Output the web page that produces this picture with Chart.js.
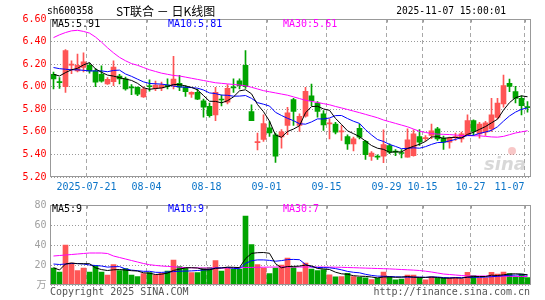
<!DOCTYPE html>
<html><head><meta charset="utf-8">
<script src="https://cdn.jsdelivr.net/npm/chart.js@4/dist/chart.umd.min.js"></script>
<style>
html,body{margin:0;padding:0;background:#fff;}
#wrap{position:relative;width:545px;height:300px;overflow:hidden;background:#fff;}
#c1{position:absolute;left:0;top:0;}
#c2{position:absolute;left:0;top:195px;}
</style></head><body>
<div id="wrap"><canvas id="c1" width="545" height="197"></canvas><canvas id="c2" width="545" height="105"></canvas></div>
<script>
const dates = [
'2025-07-11','2025-07-14','2025-07-15','2025-07-16','2025-07-17','2025-07-18','2025-07-21','2025-07-22','2025-07-23','2025-07-24',
'2025-07-25','2025-07-28','2025-07-29','2025-07-30','2025-07-31','2025-08-01','2025-08-04','2025-08-05','2025-08-06','2025-08-07',
'2025-08-08','2025-08-11','2025-08-12','2025-08-13','2025-08-14','2025-08-15','2025-08-18','2025-08-19','2025-08-20','2025-08-21',
'2025-08-22','2025-08-25','2025-08-26','2025-08-27','2025-08-28','2025-08-29','2025-09-01','2025-09-02','2025-09-03','2025-09-04',
'2025-09-05','2025-09-08','2025-09-09','2025-09-10','2025-09-11','2025-09-12','2025-09-15','2025-09-16','2025-09-17','2025-09-18',
'2025-09-19','2025-09-22','2025-09-23','2025-09-24','2025-09-25','2025-09-26','2025-09-29','2025-09-30','2025-10-09','2025-10-10',
'2025-10-13','2025-10-14','2025-10-15','2025-10-16','2025-10-17','2025-10-20','2025-10-21','2025-10-22','2025-10-23','2025-10-24',
'2025-10-27','2025-10-28','2025-10-29','2025-10-30','2025-10-31','2025-11-03','2025-11-04','2025-11-05','2025-11-06','2025-11-07'];

const open = [
6.11,6.045,6.00,6.19,6.14,6.17,6.19,6.14,6.11,6.025,
6.045,6.095,6.07,6.00,5.995,5.91,6.005,5.985,5.99,6.015,
6.01,6.03,5.995,5.935,5.95,5.876,5.826,5.75,5.888,5.862,
5.995,6.053,6.19,5.78,5.505,5.532,5.635,5.574,5.555,5.656,
5.885,5.656,5.738,5.92,5.856,5.759,5.67,5.67,5.60,5.559,
5.494,5.632,5.515,5.382,5.38,5.385,5.479,5.423,5.412,5.376,
5.39,5.559,5.54,5.568,5.626,5.544,5.509,5.55,5.538,5.574,
5.70,5.582,5.597,5.626,5.729,5.847,6.03,5.956,5.897,5.82];
const high = [
6.13,6.08,6.33,6.23,6.29,6.30,6.21,6.16,6.185,6.08,
6.23,6.11,6.085,6.02,6.00,6.00,6.06,6.05,6.04,6.07,
6.27,6.10,6.01,5.955,5.98,5.89,5.856,5.994,5.926,6.02,
6.07,6.07,6.32,5.84,5.59,5.75,5.69,5.59,5.62,5.818,
5.897,5.759,5.994,6.024,5.868,5.788,5.715,5.685,5.656,5.574,
5.553,5.67,5.524,5.426,5.397,5.618,5.494,5.444,5.444,5.626,
5.618,5.62,5.567,5.67,5.641,5.562,5.553,5.59,5.597,5.75,
5.706,5.685,5.694,5.897,5.897,6.103,6.068,6.003,5.92,5.868];
const low = [
5.98,5.985,5.95,6.115,6.13,6.13,6.12,6.00,6.04,6.02,
6.01,6.025,5.97,5.93,5.92,5.905,5.96,5.965,5.965,5.98,
5.98,5.965,5.915,5.905,5.885,5.73,5.73,5.70,5.83,5.847,
5.95,5.98,5.985,5.70,5.44,5.515,5.56,5.33,5.455,5.574,
5.656,5.603,5.73,5.832,5.73,5.612,5.538,5.582,5.524,5.444,
5.43,5.538,5.356,5.347,5.356,5.326,5.406,5.39,5.368,5.376,
5.385,5.48,5.52,5.54,5.524,5.444,5.456,5.524,5.509,5.568,
5.568,5.544,5.568,5.603,5.715,5.818,5.956,5.856,5.75,5.774];
const close = [
6.07,6.035,6.32,6.20,6.19,6.22,6.14,6.04,6.05,6.065,
6.175,6.07,5.98,5.99,5.935,5.98,6.00,6.015,6.015,6.00,
6.068,5.995,5.955,5.95,5.89,5.818,5.744,5.95,5.882,5.985,
5.99,6.01,6.00,5.70,5.51,5.673,5.59,5.385,5.60,5.768,
5.78,5.738,5.959,5.876,5.78,5.662,5.68,5.597,5.61,5.494,
5.538,5.553,5.397,5.412,5.376,5.488,5.42,5.42,5.408,5.53,
5.582,5.509,5.545,5.61,5.538,5.509,5.544,5.553,5.582,5.70,
5.603,5.67,5.679,5.75,5.856,6.009,6.003,5.897,5.832,5.815];

const ma5 = [
6.11,6.095,6.125,6.15,6.163,6.193,6.214,6.158,6.128,6.103,
6.094,6.08,6.068,6.056,6.03,5.991,5.977,5.984,5.989,6.002,
6.02,6.019,6.007,5.994,5.972,5.922,5.871,5.87,5.857,5.876,
5.91,5.963,5.973,5.937,5.842,5.779,5.695,5.572,5.552,5.603,
5.625,5.654,5.769,5.824,5.827,5.803,5.791,5.719,5.666,5.609,
5.584,5.558,5.518,5.479,5.455,5.445,5.419,5.423,5.422,5.453,
5.472,5.49,5.515,5.555,5.557,5.542,5.549,5.551,5.545,5.578,
5.596,5.622,5.647,5.68,5.712,5.793,5.859,5.903,5.919,5.911];
const ma10 = [
6.17,6.16,6.155,6.15,6.15,6.145,6.14,6.14,6.14,6.133,
6.144,6.147,6.113,6.092,6.067,6.043,6.029,6.026,6.023,6.016,
6.006,5.998,5.996,5.992,5.987,5.971,5.945,5.939,5.926,5.924,
5.916,5.917,5.922,5.897,5.859,5.845,5.829,5.773,5.745,5.72,
5.699,5.672,5.668,5.688,5.715,5.714,5.723,5.744,5.745,5.718,
5.694,5.675,5.619,5.573,5.532,5.515,5.489,5.471,5.451,5.454,
5.459,5.455,5.469,5.489,5.505,5.507,5.52,5.533,5.55,5.568,
5.569,5.586,5.599,5.613,5.645,5.695,5.741,5.775,5.80,5.812];
const ma30 = [
6.435,6.46,6.48,6.495,6.50,6.49,6.475,6.44,6.395,6.345,
6.30,6.26,6.23,6.205,6.19,6.17,6.15,6.135,6.12,6.11,
6.10,6.095,6.085,6.075,6.065,6.055,6.045,6.035,6.03,6.025,
6.02,6.015,6.008,5.995,5.98,5.965,5.955,5.945,5.935,5.925,
5.91,5.895,5.88,5.87,5.86,5.85,5.84,5.825,5.812,5.798,
5.784,5.77,5.755,5.74,5.725,5.705,5.69,5.675,5.66,5.645,
5.625,5.605,5.595,5.585,5.58,5.578,5.576,5.572,5.568,5.566,
5.565,5.565,5.56,5.555,5.553,5.56,5.575,5.59,5.60,5.61];

const volume = [
17,13,40,22,14.5,17,13,19.5,13,10,
20.5,14.5,16.5,10,8.5,11.5,12.3,10,11.7,13.9,
25,18.5,17,12.3,12.3,17,17.5,24.3,13.9,17,
15.8,15.8,69,40.5,20.3,17,11.5,17,20,27,
17.3,13,22,16,14.3,15.3,10.1,8.2,8.3,11.7,
8.3,7.6,7.2,5.4,6.8,13,8.3,5.2,6,9.8,
9.8,7.3,5.1,8.2,7,6.9,6.9,6.9,6,12.6,
9.5,7.3,7.2,12.6,11,13,11.3,8.2,11,7.3];
const volMa5 = [
17.3,15,21,22,21.3,21.3,21.3,17.2,15.4,14.5,
15.2,15.5,14.9,14.3,14,12.2,11.8,10.5,10.8,11.9,
14.6,15.8,17.2,17.3,17,15.4,15.2,16.7,17,17.9,
17.7,17.4,26.3,31.6,32.3,32.5,31.7,21.3,17.2,18.5,
18.6,18.9,19.9,19.1,16.5,16.1,15.5,12.8,11.2,10.7,
9.3,8.8,8.6,8.0,7.1,8.0,8.1,7.7,7.9,8.5,
7.8,7.6,7.6,8.0,7.5,6.9,6.8,7.2,6.7,7.9,
8.4,8.5,8.5,9.8,9.5,10.2,11.0,11.2,10.9,10.2];
const volMa10 = [
21,20.5,21,21.5,21.5,21,20,19.5,19,17.9,
18.3,18.4,16.1,14.9,14.3,13.7,13.7,12.7,12.6,13,
13.4,13.8,13.9,14.1,14.5,15,15.5,17,17.2,17.5,
16.6,16.3,21.5,24.3,25.1,25.1,24.6,23.8,24.4,25.4,
25.6,25.3,20.6,18.2,17.5,17.4,17.2,16.4,15.2,13.6,
12.7,12.2,10.7,9.6,8.9,8.7,8.5,8.2,8,7.8,
7.9,7.9,7.7,8,8,7.4,7.2,7.4,7.4,7.7,
7.7,7.7,7.9,8.3,8.7,9.3,9.8,9.9,10.4,9.9];
const volMa30 = [
29,29.5,30,30.5,31,31.5,32,32,32,31.5,
29,27.5,26,24.5,23,21.5,20.3,19.6,19,18.6,
18.2,17.8,17.4,17.2,17.1,17,17,17,17,17,
17.3,17.3,17.5,17.6,17.7,17.8,17.9,18,18,18,
18,18,18,18,18,18,17.9,17.8,17.7,17.5,
17.3,17.1,16.9,16.7,16.5,16.3,16.1,15.8,15.5,15.2,
14.9,14.5,13.8,13,12,11,10.5,10,9.5,9.1,
9,9,9,9,8.9,8.8,8.7,8.6,8.5,8.5];

const priceTicks = [5.20,5.40,5.60,5.80,6.00,6.20,6.40,6.60];
const volTicks = [0,20,40,60,80];
const axisDates = ['2025-07-21','2025-08-04','2025-08-18','2025-09-01','2025-09-15','2025-09-29','2025-10-15','2025-10-27','2025-11-07'];
const axisLabels = ['2025-07-21','08-04','08-18','09-01','09-15','09-29','10-15','10-27','11-07'];
const priceLegend = ['MA5:5.91','MA10:5.81','MA30:5.61'];
const volLegend = ['MA5:9','MA10:9','MA30:7'];

const UP = '#ff5555', DN = '#00a400';
const FONT = '"DejaVu Sans Mono", "Noto Sans CJK SC", monospace';
const gridIdx = axisDates.map(d => dates.indexOf(d));
const candleColor = close.map((c, i) => c >= open[i] ? UP : DN);

function lineDs(label, data, color) {
  return {type:'line', label, data, borderColor:color, borderWidth:1, pointRadius:0,
          tension:0, fill:false, order:0, spanGaps:true};
}
function xScale() {
  return {
    type:'category', offset:true,
    grid:{offset:true, drawTicks:false, lineWidth:1,
          color: ctx => gridIdx.includes(ctx.index) ? '#a8a8a8' : 'rgba(0,0,0,0)'},
    border:{display:false, dash:[4,3]},
    ticks:{display:false},
    afterFit: s => { s.height = 0; }
  };
}

const framePlugin = {
  id:'frame',
  afterDraw(chart, args, opts) {
    const ctx = chart.ctx, a = chart.chartArea;
    ctx.save();
    ctx.strokeStyle = '#999';
    ctx.lineWidth = 1;
    const L = Math.round(a.left) - 0.5, R = Math.round(a.right) - 0.5;
    const T = Math.round(a.top) + 0.5, B = Math.round(a.bottom) - 0.5;
    ctx.strokeRect(L, T, R - L, B - T);
    const xs = chart.scales.x;
    gridIdx.forEach(i => {
      const x = Math.round(xs.getPixelForValue(i) - 3) + 0.5;
      ctx.beginPath(); ctx.moveTo(x, T); ctx.lineTo(x, T + 3); ctx.stroke();
    });
    ctx.textBaseline = 'middle';
    ctx.font = '10px ' + FONT;
    const cols = ['#000', '#0000ff', '#ff00ff'];
    const lx = [52, 168, 283];
    opts.legend.forEach((t, i) => { ctx.fillStyle = cols[i]; ctx.fillText(t, lx[i], a.top + opts.legendDy); });
    if (opts.extra) opts.extra(ctx, chart);
    ctx.restore();
  }
};

// ---------- price chart ----------
new Chart(document.getElementById('c1'), {
  type:'bar',
  data:{
    labels: dates,
    datasets:[
      lineDs('MA5', ma5, '#000'),
      lineDs('MA10', ma10, '#0000ff'),
      lineDs('MA30', ma30, '#ff00ff'),
      {label:'wick', data: low.map((l, i) => [l, high[i]]), backgroundColor: candleColor,
       barThickness:1, grouped:false, minBarLength:1, order:2},
      {label:'body', data: open.map((o, i) => [o, close[i]]), backgroundColor: candleColor,
       barThickness:5, grouped:false, minBarLength:1, order:1}
    ]
  },
  options:{
    responsive:false, animation:false, events:[],
    layout:{padding:{left:0, right:14.5, top:19, bottom:20}},
    plugins:{legend:{display:false}, tooltip:{enabled:false},
      frame:{legend: priceLegend, legendDy: 5,
        extra(ctx, chart) {
          const xs = chart.scales.x;
          ctx.font = '10px ' + FONT;
          ctx.fillStyle = '#0a74c8';
          gridIdx.forEach((idx, j) => {
            const x = xs.getPixelForValue(idx) - 3;
            ctx.textAlign = j === gridIdx.length - 1 ? 'right' : 'center';
            ctx.fillText(axisLabels[j], x, 187);
          });
          ctx.textAlign = 'left';
          ctx.fillStyle = '#000';
          ctx.font = '9.6px ' + FONT;
          ctx.fillText('sh600358', 47, 11);
          ctx.font = '12px "Noto Sans CJK SC", sans-serif';
          ctx.fillText('ST联合 － 日K线图', 116, 11);
          ctx.font = '9.6px ' + FONT;
          ctx.textAlign = 'right';
          ctx.fillText('2025-11-07 15:00:01', 506, 11);
          ctx.textAlign = 'left';
          ctx.font = 'italic bold 18px "DejaVu Sans", sans-serif';
          ctx.fillStyle = 'rgba(190,190,190,0.6)';
          ctx.fillText('sina', 484, 165);
          ctx.fillStyle = 'rgba(240,130,130,0.45)';
          ctx.beginPath(); ctx.arc(512, 151, 4, 0, Math.PI * 2); ctx.fill();
        }}},
    scales:{
      x: xScale(),
      y:{
        type:'linear', min:5.2, max:6.6,
        afterBuildTicks: s => { s.ticks = priceTicks.map(v => ({value:v})); },
        afterFit: s => { s.width = 50.5; },
        ticks:{color:'#ff0000', padding:4, font:{family:FONT, size:10},
               callback: v => Number(v).toFixed(2)},
        grid:{color:'#9a9a9a', drawTicks:false, lineWidth:1},
        border:{display:false, dash:[1,2]}
      }
    }
  },
  plugins:[framePlugin]
});

// ---------- volume chart ----------
new Chart(document.getElementById('c2'), {
  type:'bar',
  data:{
    labels: dates,
    datasets:[
      lineDs('MA5', volMa5, '#000'),
      lineDs('MA10', volMa10, '#0000ff'),
      lineDs('MA30', volMa30, '#ff00ff'),
      {label:'vol', data: volume, backgroundColor: candleColor, barThickness:5, order:1}
    ]
  },
  options:{
    responsive:false, animation:false, events:[],
    layout:{padding:{left:0, right:14.5, top:7, bottom:15}},
    plugins:{legend:{display:false}, tooltip:{enabled:false},
      frame:{legend: volLegend, legendDy: 4,
        extra(ctx, chart) {
          ctx.font = '10px ' + FONT;
          ctx.fillStyle = '#555';
          ctx.textAlign = 'left';
          ctx.fillText('Copyright 2025 SINA.COM', 50, 97);
          ctx.textAlign = 'right';
          ctx.fillText('http://finance.sina.com.cn', 530, 97);
        }}},
    scales:{
      x: xScale(),
      y:{
        type:'linear', min:0, max:80,
        afterBuildTicks: s => { s.ticks = volTicks.map(v => ({value:v})); },
        afterFit: s => { s.width = 50.5; },
        ticks:{color:'#a0a0a0', padding:4, font:{family:FONT, size:10},
               callback: v => v === 0 ? '万' : String(v)},
        grid:{color:'#9a9a9a', drawTicks:false, lineWidth:1},
        border:{display:false, dash:[1,2]}
      }
    }
  },
  plugins:[framePlugin]
});
</script>
</body></html>
